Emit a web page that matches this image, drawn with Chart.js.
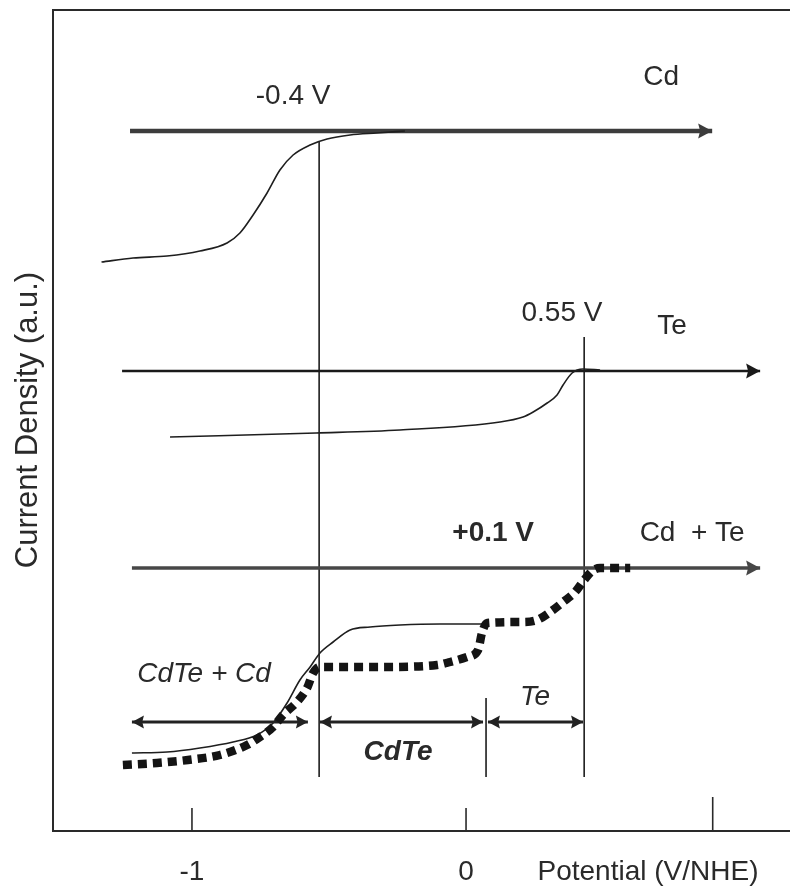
<!DOCTYPE html>
<html>
<head>
<meta charset="utf-8">
<script src="https://cdn.jsdelivr.net/npm/chart.js@4/dist/chart.umd.min.js"></script>
<style>
html,body{margin:0;padding:0;background:#fff;}
canvas{display:block;}
</style>
</head>
<body>
<canvas id="c" width="790" height="888"></canvas>
<script>
// ---------- data (x: potential in axis units as drawn, y: current density, a.u.) ----------
const cdX = [-1.330, -1.215, -1.091, -0.971, -0.872, -0.825, -0.777, -0.726, -0.679, -0.631, -0.569, -0.507, -0.423, -0.325, -0.223];
const cdY = [56.9, 57.3, 57.5, 58.0, 58.8, 59.8, 61.6, 63.8, 66.1, 67.6, 68.6, 69.2, 69.6, 69.8, 70.0];

const teX = [-1.080, -0.547, -0.241, 0.124, 0.208, 0.245, 0.296, 0.332, 0.354, 0.387, 0.427, 0.489];
const teY = [39.4, 39.8, 40.1, 40.9, 41.4, 41.9, 42.8, 43.6, 44.6, 45.8, 46.2, 46.1];

const mixSolidX = [-1.219, -1.091, -0.971, -0.850, -0.763, -0.704, -0.653, -0.606, -0.569, -0.533, -0.485, -0.423, -0.350, -0.241, -0.095, 0.062];
const mixSolidY = [7.8, 7.9, 8.3, 8.9, 9.6, 10.8, 12.8, 15.1, 16.4, 17.8, 18.9, 20.1, 20.4, 20.6, 20.7, 20.7];

const mixDotX = [-1.252, -1.128, -1.015, -0.898, -0.799, -0.752, -0.704, -0.668, -0.617, -0.580, -0.558, -0.533, -0.314, -0.106, -0.058, 0.004, 0.044, 0.058, 0.077, 0.208, 0.259, 0.307, 0.354, 0.398, 0.431, 0.460, 0.489, 0.599];
const mixDotY = [6.6, 6.8, 7.1, 7.6, 8.6, 9.4, 10.4, 11.6, 12.9, 14.3, 15.8, 16.4, 16.4, 16.6, 16.9, 17.4, 18.1, 19.8, 20.8, 20.9, 21.1, 21.9, 22.9, 23.9, 25.1, 26.0, 26.3, 26.3];

// baselines (zero-current axes) of the three curves
const baseLevel = [70.0, 46.0, 26.3];
const baseStart = [-1.226, -1.255, -1.219];
const baseEnd   = [0.898, 1.073, 1.073];

// deposition potentials (vertical markers)
const markerX   = [-0.536, 0.431, 0.073];
const markerTop = [68.9, 49.4, 13.3];
const markerBot = [5.4, 5.4, 5.4];

// phase ranges (double arrows)
const rangeStart = [-1.219, -0.533, 0.080];
const rangeEnd   = [-0.577, 0.062, 0.427];
const rangeLevel = 10.9;

// x axis
const xTickValues = [-1, 0, 0.9];
const xTickLabels = ['-1', '0', ''];
const xTitle = 'Potential (V/NHE)';
const yTitle = 'Current Density (a.u.)';

// annotations
const noteText = ['-0.4 V', 'Cd', '0.55 V', 'Te', '+0.1 V', 'Cd  + Te', 'CdTe + Cd', 'CdTe', 'Te'];
const noteX    = [-0.631, 0.712, 0.350, 0.752, 0.099, 0.825, -0.956, -0.248, 0.252];
const noteY    = [73.5, 75.4, 51.8, 50.5, 29.8, 29.8, 15.7, 7.9, 13.4];
const noteFont = ['', '', '', '', 'bold', '', 'italic', 'italic bold', 'italic'];

// ---------- build ----------
const zip = (xs, ys) => xs.map((x, i) => ({x: x, y: ys[i]}));
const ink = '#1e1e1e';
const datasets = [];

datasets.push({data: zip(mixDotX, mixDotY), borderColor: '#141414', borderWidth: 8.5, borderDash: [9, 6], borderCapStyle: 'butt', cubicInterpolationMode: 'monotone', order: 0});
datasets.push({data: zip(cdX, cdY), borderColor: ink, borderWidth: 1.6, cubicInterpolationMode: 'monotone', order: 2});
datasets.push({data: zip(teX, teY), borderColor: ink, borderWidth: 1.6, cubicInterpolationMode: 'monotone', order: 2});
datasets.push({data: zip(mixSolidX, mixSolidY), borderColor: ink, borderWidth: 1.6, cubicInterpolationMode: 'monotone', order: 2});

const baseW = [4.3, 2.7, 3.5];
const baseC = ['#3c3c3c', '#1a1a1a', '#474747'];
baseLevel.forEach((lv, i) => {
  datasets.push({data: [{x: baseStart[i], y: lv}, {x: baseEnd[i], y: lv}], borderColor: baseC[i], borderWidth: baseW[i], order: 3, arrow: {end: true, len: 14, half: 7.5}});
});
markerX.forEach((mx, i) => {
  datasets.push({data: [{x: mx, y: markerTop[i]}, {x: mx, y: markerBot[i]}], borderColor: ink, borderWidth: 1.6, order: 3});
});
rangeStart.forEach((rs, i) => {
  datasets.push({data: [{x: rs, y: rangeLevel}, {x: rangeEnd[i], y: rangeLevel}], borderColor: '#222', borderWidth: 3, order: 1, arrow: {start: true, end: true, len: 12, half: 6.5}});
});

const arrowPlugin = {
  id: 'arrowHeads',
  afterDatasetsDraw(chart) {
    const ctx = chart.ctx;
    chart.data.datasets.forEach((ds, i) => {
      if (!ds.arrow) return;
      const pts = chart.getDatasetMeta(i).data;
      const n = pts.length;
      const head = (tip, from) => {
        const a = Math.atan2(tip.y - from.y, tip.x - from.x);
        const L = ds.arrow.len, W = ds.arrow.half;
        ctx.save();
        ctx.translate(tip.x, tip.y);
        ctx.rotate(a);
        ctx.beginPath();
        ctx.moveTo(0, 0);
        ctx.lineTo(-L, -W);
        ctx.lineTo(-L * 0.86, 0);
        ctx.lineTo(-L, W);
        ctx.closePath();
        ctx.fillStyle = ds.borderColor;
        ctx.fill();
        ctx.restore();
      };
      if (ds.arrow.end) head(pts[n - 1], pts[n - 2]);
      if (ds.arrow.start) head(pts[0], pts[1]);
    });
  }
};

const FONT = '"Liberation Sans", Arial, Helvetica, sans-serif';
const framePlugin = {
  id: 'frameAndText',
  afterDraw(chart) {
    const ctx = chart.ctx;
    const a = chart.chartArea;
    const xs = chart.scales.x;
    ctx.save();
    // frame: left, top, bottom (open to the right)
    ctx.strokeStyle = '#2a2a2a';
    ctx.lineWidth = 2;
    ctx.beginPath();
    ctx.moveTo(chart.width, a.top); ctx.lineTo(a.left, a.top); ctx.lineTo(a.left, a.bottom); ctx.lineTo(chart.width, a.bottom);
    ctx.stroke();
    // inward ticks
    ctx.lineWidth = 1.6;
    xTickValues.forEach((v, i) => {
      const px = xs.getPixelForValue(v);
      ctx.beginPath();
      ctx.moveTo(px, a.bottom);
      ctx.lineTo(px, a.bottom - (xTickLabels[i] === '' ? 34 : 23));
      ctx.stroke();
    });
    // tick labels
    ctx.fillStyle = '#2a2a2a';
    ctx.textAlign = 'center';
    ctx.textBaseline = 'middle';
    ctx.font = '28px ' + FONT;
    xTickValues.forEach((v, i) => {
      if (xTickLabels[i]) ctx.fillText(xTickLabels[i], xs.getPixelForValue(v), a.bottom + 41);
    });
    ctx.fillText(xTitle, 648, a.bottom + 41);
    // y title
    ctx.save();
    ctx.translate(28, 420);
    ctx.rotate(-Math.PI / 2);
    ctx.font = '31px ' + FONT;
    ctx.fillText(yTitle, 0, 0);
    ctx.restore();
    // annotations
    const ys = chart.scales.y;
    noteText.forEach((t, i) => {
      ctx.font = (noteFont[i] ? noteFont[i] + ' ' : '') + '28px ' + FONT;
      ctx.fillText(t, xs.getPixelForValue(noteX[i]), ys.getPixelForValue(noteY[i]));
    });
    ctx.restore();
  }
};

new Chart(document.getElementById('c'), {
  type: 'scatter',
  data: {datasets: datasets},
  options: {
    responsive: false,
    animation: false,
    showLine: true,
    layout: {padding: {left: 53, top: 10, right: 0, bottom: 57}},
    elements: {point: {radius: 0, hoverRadius: 0}, line: {fill: false}},
    plugins: {legend: {display: false}, tooltip: {enabled: false}},
    scales: {
      x: {type: 'linear', display: false, min: -1.507, max: 1.182},
      y: {type: 'linear', display: false, min: 0, max: 82.1}
    }
  },
  plugins: [arrowPlugin, framePlugin]
});
</script>
</body>
</html>
